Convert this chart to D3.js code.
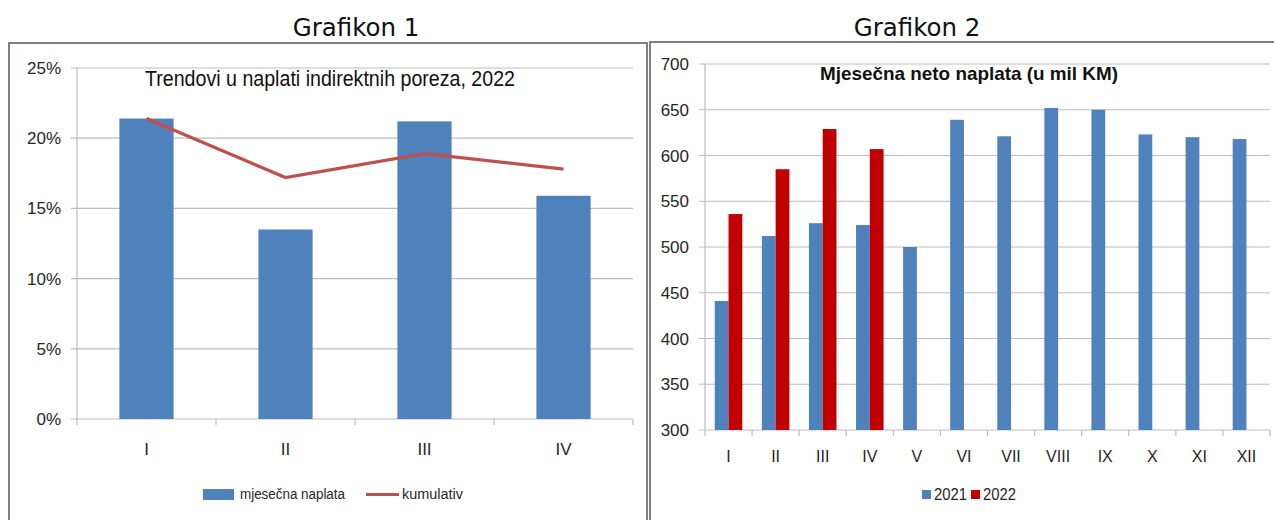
<!DOCTYPE html>
<html>
<head>
<meta charset="utf-8">
<script src="https://cdn.jsdelivr.net/npm/d3@7"></script>
<style>
  html, body { margin: 0; padding: 0; background: #fff; }
  svg { display: block; }
</style>
</head>
<body>
<div id="chart"></div>
<script>
// two little excel-style charts side by side

const cats1 = ["I", "II", "III", "IV"];
const mjesecna = [21.4, 13.5, 21.2, 15.9];   // % monthly
const kumulativ = [21.4, 17.2, 18.9, 17.8];  // % cumulative
const yTicks1 = [0, 5, 10, 15, 20, 25];

const months = ["I", "II", "III", "IV", "V", "VI", "VII", "VIII", "IX", "X", "XI", "XII"];
const v2021 = [441, 512, 526, 524, 500, 639, 621, 652, 650, 623, 620, 618];
const v2022 = [536, 585, 629, 607];
const yTicks2 = [300, 350, 400, 450, 500, 550, 600, 650, 700];

const BLUE = "#4f81bd";
const RED_BAR = "#c00000";
const RED_LINE = "#c0504d";
const GRID = "#bdbdbd";
const TXT = "#262626";
const NARROW = "'Liberation Sans Narrow', 'Arial Narrow', 'Liberation Sans', sans-serif";

const W = 1274, H = 520;
const svg = d3.select("#chart").append("svg")
  .attr("width", W).attr("height", H);

// squeeze text to a width, calibri is narrower than what we have
function squeeze(sel, w) {
  return sel.attr("textLength", w).attr("lengthAdjust", "spacingAndGlyphs");
}

// headings above the boxes
svg.append("text").attr("x", 356).attr("y", 36)
  .attr("text-anchor", "middle").attr("font-family", "'DejaVu Sans', Verdana, sans-serif")
  .attr("font-size", 24.5).attr("fill", "#111").text("Grafikon 1");
svg.append("text").attr("x", 917).attr("y", 36)
  .attr("text-anchor", "middle").attr("font-family", "'DejaVu Sans', Verdana, sans-serif")
  .attr("font-size", 24.5).attr("fill", "#111").text("Grafikon 2");

// box frames
svg.append("rect").attr("x", 9).attr("y", 43).attr("width", 638).attr("height", 490)
  .attr("fill", "none").attr("stroke", "#7f7f7f").attr("stroke-width", 2);
svg.append("rect").attr("x", 650).attr("y", 42).attr("width", 640).attr("height", 490)
  .attr("fill", "none").attr("stroke", "#7f7f7f").attr("stroke-width", 2);

// ---------- chart 1 ----------
{
  const x = d3.scaleBand().domain(cats1).range([77, 633]).paddingInner(0.61).paddingOuter(0.305);
  const xb = d3.scaleBand().domain(cats1).range([77, 633]);
  const y = d3.scaleLinear().domain([0, 25]).range([419, 68]);
  const g = svg.append("g");

  g.selectAll("line.grid").data(yTicks1).join("line")
    .attr("x1", 71).attr("x2", 633)
    .attr("y1", d => y(d)).attr("y2", d => y(d))
    .attr("stroke", GRID).attr("stroke-width", 1.2);

  g.append("line").attr("x1", 77).attr("x2", 77).attr("y1", 68).attr("y2", 419)
    .attr("stroke", GRID).attr("stroke-width", 1.2);

  // category ticks
  g.selectAll("line.tk").data(cats1.concat(["end"])).join("line")
    .attr("x1", (d, i) => 77 + i * xb.bandwidth())
    .attr("x2", (d, i) => 77 + i * xb.bandwidth())
    .attr("y1", 419).attr("y2", 425)
    .attr("stroke", GRID).attr("stroke-width", 1.2);

  g.selectAll("text.yl").data(yTicks1).join("text")
    .attr("x", 61).attr("y", d => y(d) + 6)
    .attr("text-anchor", "end").attr("font-family", NARROW)
    .attr("font-size", 17).attr("fill", TXT).text(d => d + "%");

  g.selectAll("rect.bar").data(mjesecna).join("rect")
    .attr("x", (d, i) => x(cats1[i])).attr("width", x.bandwidth())
    .attr("y", d => y(d)).attr("height", d => y(0) - y(d))
    .attr("fill", BLUE);

  const line = d3.line()
    .x((d, i) => xb(cats1[i]) + xb.bandwidth() / 2)
    .y(d => y(d));
  g.append("path").datum(kumulativ).attr("d", line)
    .attr("fill", "none").attr("stroke", RED_LINE).attr("stroke-width", 3.2);

  g.selectAll("text.xl").data(cats1).join("text")
    .attr("x", d => xb(d) + xb.bandwidth() / 2).attr("y", 455)
    .attr("text-anchor", "middle").attr("font-family", NARROW)
    .attr("font-size", 17).attr("fill", TXT).text(d => d);

  squeeze(g.append("text").attr("x", 145).attr("y", 86)
    .attr("font-family", NARROW).attr("font-size", 22).attr("fill", "#111")
    .text("Trendovi u naplati indirektnih poreza, 2022"), 370);

  // legend
  g.append("rect").attr("x", 203).attr("y", 489).attr("width", 31).attr("height", 11).attr("fill", BLUE);
  squeeze(g.append("text").attr("x", 240).attr("y", 499).attr("font-family", NARROW)
    .attr("font-size", 15.5).attr("fill", TXT).text("mjesečna naplata"), 105);
  g.append("line").attr("x1", 366).attr("x2", 399).attr("y1", 494.5).attr("y2", 494.5)
    .attr("stroke", RED_LINE).attr("stroke-width", 3.2);
  squeeze(g.append("text").attr("x", 402).attr("y", 499).attr("font-family", NARROW)
    .attr("font-size", 15.5).attr("fill", TXT).text("kumulativ"), 61);
}

// ---------- chart 2 ----------
{
  const x = d3.scaleBand().domain(months).range([705, 1270]);
  const inner = d3.scaleBand().domain(["2021", "2022"]).range([0, x.bandwidth()]).paddingOuter(0.71).paddingInner(0);
  const y = d3.scaleLinear().domain([300, 700]).range([430, 64]);
  const g = svg.append("g");

  g.selectAll("line.grid").data(yTicks2).join("line")
    .attr("x1", 699).attr("x2", 1270)
    .attr("y1", d => y(d)).attr("y2", d => y(d))
    .attr("stroke", GRID).attr("stroke-width", 1.2);

  g.append("line").attr("x1", 705).attr("x2", 705).attr("y1", 64).attr("y2", 430)
    .attr("stroke", GRID).attr("stroke-width", 1.2);

  g.selectAll("line.tk").data(months.concat(["end"])).join("line")
    .attr("x1", (d, i) => 705 + i * x.bandwidth())
    .attr("x2", (d, i) => 705 + i * x.bandwidth())
    .attr("y1", 430).attr("y2", 436)
    .attr("stroke", GRID).attr("stroke-width", 1.2);

  g.selectAll("text.yl").data(yTicks2).join("text")
    .attr("x", 689).attr("y", d => y(d) + 6)
    .attr("text-anchor", "end").attr("font-family", NARROW)
    .attr("font-size", 17).attr("fill", TXT).text(d => d);

  g.selectAll("rect.b21").data(v2021).join("rect")
    .attr("x", (d, i) => x(months[i]) + inner("2021")).attr("width", inner.bandwidth())
    .attr("y", d => y(d)).attr("height", d => y(300) - y(d))
    .attr("fill", BLUE);

  g.selectAll("rect.b22").data(v2022).join("rect")
    .attr("x", (d, i) => x(months[i]) + inner("2022")).attr("width", inner.bandwidth())
    .attr("y", d => y(d)).attr("height", d => y(300) - y(d))
    .attr("fill", RED_BAR);

  g.selectAll("text.xl").data(months).join("text")
    .attr("x", d => x(d) + x.bandwidth() / 2).attr("y", 462)
    .attr("text-anchor", "middle").attr("font-family", NARROW)
    .attr("font-size", 16).attr("fill", TXT).text(d => d);

  squeeze(g.append("text").attr("x", 820).attr("y", 80)
    .attr("font-family", NARROW).attr("font-size", 19).attr("font-weight", "bold").attr("fill", "#111")
    .text("Mjesečna neto naplata (u mil KM)"), 298);

  // legend
  g.append("rect").attr("x", 922).attr("y", 490).attr("width", 9).attr("height", 9).attr("fill", BLUE);
  squeeze(g.append("text").attr("x", 934).attr("y", 500).attr("font-family", NARROW)
    .attr("font-size", 16).attr("fill", TXT).text("2021"), 33);
  g.append("rect").attr("x", 971).attr("y", 490).attr("width", 9).attr("height", 9).attr("fill", RED_BAR);
  squeeze(g.append("text").attr("x", 983).attr("y", 500).attr("font-family", NARROW)
    .attr("font-size", 16).attr("fill", TXT).text("2022"), 33);
}
</script>
</body>
</html>
